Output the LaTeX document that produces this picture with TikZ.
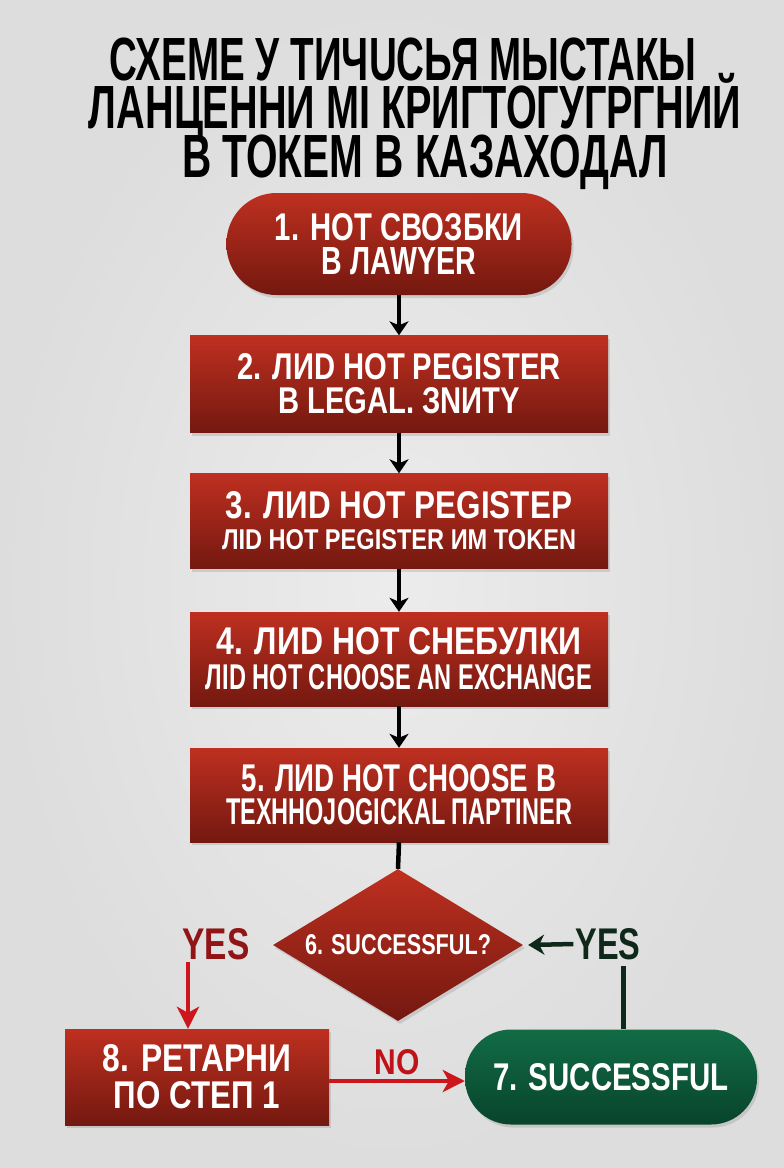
\documentclass[tikz,border=0pt]{standalone}
\usepackage{fontspec}
\setmainfont{Liberation Sans}
\usetikzlibrary{arrows.meta,shapes.geometric,shadows}
\definecolor{bgin}{RGB}{236,236,236}
\definecolor{bgout}{RGB}{221,221,221}
\definecolor{rtop}{RGB}{190,48,32}
\definecolor{rbot}{RGB}{116,24,16}
\definecolor{gtop}{RGB}{18,108,70}
\definecolor{gbot}{RGB}{8,68,44}
\definecolor{redline}{RGB}{205,22,28}
\definecolor{yesred}{RGB}{145,20,22}
\definecolor{nored}{RGB}{190,20,25}
\definecolor{dkgreen}{RGB}{14,40,26}
\newcommand\fitl[3]{\resizebox{#1}{#2}{#3}}
\newcommand\fitw[2]{\resizebox{#1}{\height}{#2}}
\begin{document}
\begin{tikzpicture}[x=1pt,y=-1pt,
  titlef/.style={inner sep=0pt,anchor=base,font=\bfseries\fontsize{61}{61}\selectfont},
  boxbase/.style={inner sep=0pt,text=white,align=center,
    top color=rtop,bottom color=rbot,
    drop shadow={opacity=0.25,shadow xshift=2pt,shadow yshift=-3pt},
    font=\bfseries\fontsize{36}{34}\selectfont},
  redbox/.style={boxbase,rectangle,minimum width=418pt,minimum height=95pt},
  pill/.style={boxbase,rectangle,rounded corners=50pt,minimum width=345pt,minimum height=102pt},
  decision/.style={boxbase,diamond,aspect=1.64,minimum width=250pt,minimum height=152pt},
  greenpill/.style={boxbase,rectangle,rounded corners=46pt,top color=gtop,bottom color=gbot,minimum width=292pt,minimum height=95pt},
  lab/.style={inner sep=0pt,font=\bfseries\fontsize{36}{36}\selectfont},
  blk/.style={line width=4.5pt,black,-{Stealth[length=14pt,width=19pt,inset=4pt]}},
  blkline/.style={line width=4.5pt,black},
  redarr/.style={line width=4pt,redline,-{Stealth[length=22pt,width=22pt,inset=6pt]}},
  grnarr/.style={line width=4.5pt,dkgreen,-{Stealth[length=16pt,width=20pt,inset=5pt]}},
  grnline/.style={line width=5pt,dkgreen}
]
\useasboundingbox (0,0) rectangle (784,1168);
\shade[inner color=bgin,outer color=bgout] (0,0) rectangle (784,1168);

% title
\node[titlef] (t1) at (403,80) {\fitw{587pt}{СХЕМЕ У ТИЧUСЬЯ МЫСТАКЫ}};
\node[titlef] (t2) at (415,128) {\fitw{652pt}{ЛАНЦЕННИ МI КРИГТОГУГРГНИЙ}};
\node[titlef] (t3) at (425,177) {\fitw{486pt}{В ТОКЕМ В КАЗАХОДАЛ}};

% steps
\node[pill] (b1) at (399,244) {\fitl{248pt}{27pt}{1. НОТ СВОЗБКИ}\\\fitl{155pt}{27pt}{В ЛАWYER}};
\node[redbox,minimum height=97pt] (b2) at (399,384) {\fitl{323pt}{26pt}{2. ЛИD НОТ РЕGISTER}\\\fitl{242pt}{26pt}{В LEGAL. ЗNИТY}};
\node[redbox,minimum height=95pt,font=\bfseries\fontsize{36}{31}\selectfont] (b3) at (399,521) {\fitl{346pt}{27pt}{3. ЛИD НОТ РЕGISTEP}\\\fitl{354pt}{20pt}{ЛID НОТ PEGISTER ИМ TOKEN}};
\node[redbox,minimum height=94pt,font=\bfseries\fontsize{36}{35}\selectfont] (b4) at (399,659) {\fitl{365pt}{27pt}{4. ЛИD НОТ СНЕБУЛКИ}\\\fitl{386pt}{25pt}{ЛID НОТ CHOOSE AN EXCHANGE}};
\node[redbox,minimum height=94pt,font=\bfseries\fontsize{36}{33}\selectfont] (b5) at (399,795) {\fitl{314pt}{27pt}{5. ЛИD НОТ CHOOSE В}\\\fitl{346pt}{26pt}{TEXHHOJOGICKAL ПAPTINER}};
\node[decision] (d6) at (398,945) {\fitl{186pt}{20pt}{6. SUCCESSFUL?}};
\node[greenpill] (s7) at (611,1077) {\fitl{235pt}{27pt}{7. SUCCESSFUL}};
\node[redbox,minimum width=264pt,minimum height=96pt,font=\bfseries\fontsize{36}{37}\selectfont] (b8) at (197,1077) {\fitl{188pt}{27pt}{8. РЕТАРНИ}\\\fitl{166pt}{27pt}{ПО СТЕП 1}};

% labels
\node[lab,text=yesred] (yl) at (216,944) {\fitl{67pt}{31pt}{YES}};
\node[lab,text=dkgreen] (yr) at (608,944) {\fitl{65pt}{31pt}{YES}};
\node[lab,text=nored] (no) at (397,1062) {\fitl{45pt}{25pt}{NO}};

% connectors
\draw[blk] (b1.south) -- (b2.north);
\draw[blk] (b2.south) -- (b3.north);
\draw[blk] (b3.south) -- (b4.north);
\draw[blk] (b4.south) -- (b5.north);
\draw[blkline] (b5.south) -- (d6.north);
\coordinate (cl) at (188,0);
\draw[redarr] ([yshift=-2pt]yl.south -| cl) -- (b8.north -| cl);
\draw[grnarr] ([xshift=-2pt]yr.west) -- ([xshift=5pt]d6.east);
\coordinate (cr) at (623,966);
\draw[grnline] (cr) -- (cr |- s7.north);
\coordinate (cn) at (0,1081);
\draw[redarr] (b8.east |- cn) -- (s7.west |- cn);
\end{tikzpicture}
\end{document}
